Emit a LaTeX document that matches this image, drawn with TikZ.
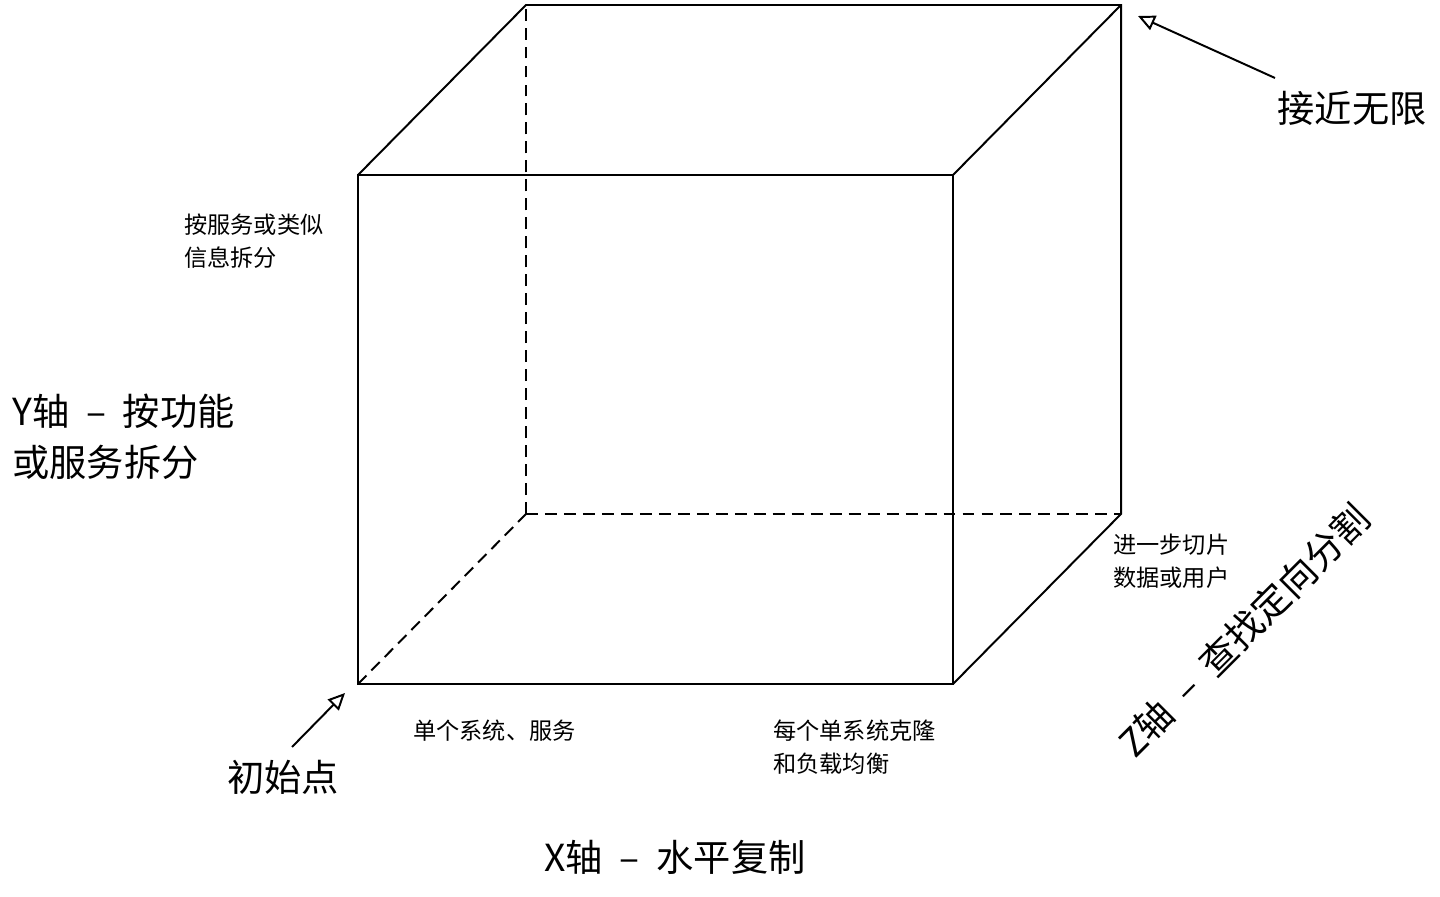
\documentclass[tikz,border=0pt]{standalone}
\usepackage{fontspec}
\newfontfamily\cjk{Noto Sans CJK SC}
\usetikzlibrary{arrows.meta, calc}

\newcommand{\axisdash}{\hspace{0.45em}–\hspace{0.45em}}

\tikzset{
  edge/.style={line width=1.4pt, line cap=round},
  hidden/.style={line width=1.4pt, dash pattern=on 8.5pt off 5pt},
  pointer/.style={line width=1.4pt, -{Triangle[open, length=12pt, width=11pt, line width=1.4pt]}},
  biglabel/.style={font=\cjk\fontsize{26.5}{36}\selectfont, inner sep=0pt},
  smalllabel/.style={font=\cjk\fontsize{16.5}{23.4}\selectfont, inner sep=0pt, align=left}
}

\begin{document}
\begin{tikzpicture}

\useasboundingbox (0,0) rectangle (36,22.4);

% Front face corners
\coordinate (A) at (8.95, 5.3);
\coordinate (B) at (23.825, 5.3);
\coordinate (C) at (23.825, 18.025);
\coordinate (D) at (8.95, 18.025);

% Back face corners (shifted up right)
\coordinate (A') at ($(A)+(4.2,4.25)$);
\coordinate (B') at ($(B)+(4.2,4.25)$);
\coordinate (C') at ($(C)+(4.2,4.25)$);
\coordinate (D') at ($(D)+(4.2,4.25)$);

% Hidden edges
\draw[hidden] (A) -- (A');
\draw[hidden] (A') -- (B');
\draw[hidden] (A') -- (D');

% Front face
\draw[edge] (A) -- (B) -- (C) -- (D) -- cycle;

% Visible back edges
\draw[edge] (D) -- (D') -- (C') -- (B') -- (B);
\draw[edge] (C) -- (C');

% Axis labels
\node[biglabel] (xaxis) at (16.875, 0.975) {X轴\axisdash 水平复制};
\node[biglabel, anchor=west, align=left] (yaxis) at (0.3, 11.475) {Y轴\axisdash 按功能\\或服务拆分};
\node[biglabel, rotate=45] (zaxis) at (31.1, 6.65) {Z轴\axisdash 查找定向分割};

% Corner labels
\node[biglabel] (limit) at (33.8, 19.7) {接近无限};
\node[biglabel] (origin) at (7.075, 2.975) {初始点};

% Arrows to the corners
\coordinate (limitstart) at (31.875, 20.45);
\coordinate (limitend) at (28.45, 22.0);
\draw[pointer] (limitstart) -- (limitend);

\coordinate (originstart) at (7.3, 3.725);
\coordinate (originend) at (8.625, 5.075);
\draw[pointer] (originstart) -- (originend);

% Small notes
\node[smalllabel, anchor=west] (ynote) at (4.6, 16.36) {按服务或类似\\信息拆分};
\node[smalllabel, anchor=west] (xnote1) at (10.325, 4.125) {单个系统、服务};
\node[smalllabel, anchor=west] (xnote2) at (19.325, 3.725) {每个单系统克隆\\和负载均衡};
\node[smalllabel, anchor=west] (znote) at (27.825, 8.375) {进一步切片\\数据或用户};

\end{tikzpicture}
\end{document}
